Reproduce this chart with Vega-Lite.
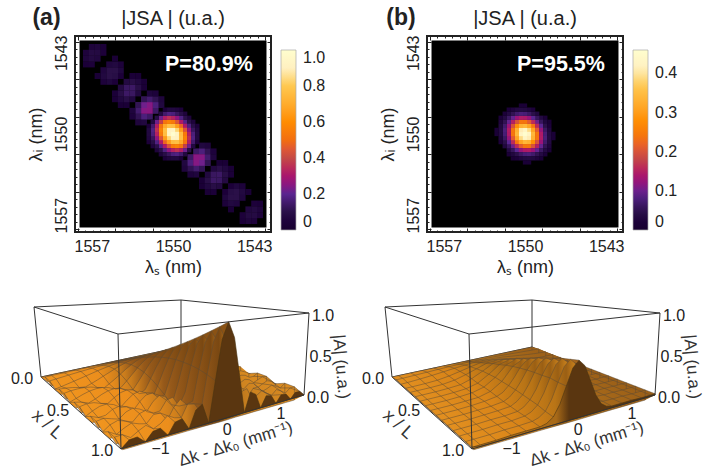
{"$schema":"https://vega.github.io/schema/vega-lite/v6.json","padding":{"left":10,"top":6,"right":0,"bottom":0},"background":"white","config":{"font":"Liberation Sans","axis":{"labelFontSize":16,"titleFontSize":18,"labelColor":"#222","titleColor":"#222","titleFontWeight":"normal","domain":false,"grid":false,"tickColor":"#222","tickWidth":1,"labelOverlap":false,"labelBound":false,"labelFlush":false}},"bounds":"flush","columns":2,"spacing":{"row":50,"column":156},"resolve":{"scale":{"color":"independent"}},"concat":[{"width":196,"height":196,"view":{"stroke":"#222","strokeWidth":2},"layer":[{"data":{"values":[{"x":1558.06,"x2":1541.94,"y":1541.94,"y2":1558.06}]},"mark":{"type":"rect","color":"#000"},"encoding":{"x":{"field":"x","type":"quantitative","scale":{"domain":[1558.45,1541.55],"nice":false,"zero":false},"axis":{"orient":"bottom","title":"λₛ (nm)","values":[1558.2,1557.55,1557,1556.91,1556.26,1555.62,1554.97,1554.33,1553.68,1553.03,1552.39,1551.74,1551.1,1550.45,1550,1549.8,1549.16,1548.51,1547.87,1547.22,1546.58,1545.93,1545.28,1544.64,1543.99,1543.35,1543,1542.7,1542.06],"labelExpr":"indexof([1557,1550,1543],datum.value)>=0?datum.value+'':''","tickSize":{"expr":"indexof([1557,1550,1543],datum.value)>=0?0:(indexof([1558.2,1554.97,1551.74,1548.51,1545.28,1542.06],datum.value)>=0?-4:-2)"},"labelPadding":6,"titlePadding":4}},"x2":{"field":"x2"},"y":{"field":"y","type":"quantitative","scale":{"domain":[1558.45,1541.55],"nice":false,"zero":false},"axis":{"orient":"left","title":"λᵢ (nm)","values":[1558.2,1557.55,1557,1556.91,1556.26,1555.62,1554.97,1554.33,1553.68,1553.03,1552.39,1551.74,1551.1,1550.45,1550,1549.8,1549.16,1548.51,1547.87,1547.22,1546.58,1545.93,1545.28,1544.64,1543.99,1543.35,1543,1542.7,1542.06],"labelExpr":"indexof([1557,1550,1543],datum.value)>=0?datum.value+'':''","tickSize":{"expr":"indexof([1557,1550,1543],datum.value)>=0?0:(indexof([1558.2,1554.97,1551.74,1548.51,1545.28,1542.06],datum.value)>=0?-4:-2)"},"labelAngle":-90,"labelPadding":6,"titlePadding":8}},"y2":{"field":"y2"}}},{"data":{"values":[{"a":4,"b":3,"v":0.142},{"a":3,"b":4,"v":0.142},{"a":5,"b":2,"v":0.067},{"a":2,"b":5,"v":0.067},{"a":4,"b":4,"v":0.25},{"a":5,"b":3,"v":0.172},{"a":3,"b":5,"v":0.172},{"a":6,"b":2,"v":0.055},{"a":2,"b":6,"v":0.055},{"a":5,"b":4,"v":0.245},{"a":4,"b":5,"v":0.245},{"a":6,"b":3,"v":0.116},{"a":3,"b":6,"v":0.116},{"a":5,"b":5,"v":0.22},{"a":6,"b":4,"v":0.152},{"a":4,"b":6,"v":0.152},{"a":7,"b":3,"v":0.048},{"a":3,"b":7,"v":0.048},{"a":6,"b":5,"v":0.118},{"a":5,"b":6,"v":0.118},{"a":7,"b":4,"v":0.056},{"a":4,"b":7,"v":0.056},{"a":7,"b":6,"v":0.066},{"a":6,"b":7,"v":0.066},{"a":8,"b":5,"v":0.031},{"a":5,"b":8,"v":0.031},{"a":7,"b":7,"v":0.133},{"a":8,"b":6,"v":0.092},{"a":6,"b":8,"v":0.092},{"a":9,"b":5,"v":0.029},{"a":5,"b":9,"v":0.029},{"a":8,"b":7,"v":0.14},{"a":7,"b":8,"v":0.14},{"a":9,"b":6,"v":0.066},{"a":6,"b":9,"v":0.066},{"a":8,"b":8,"v":0.134},{"a":9,"b":7,"v":0.092},{"a":7,"b":9,"v":0.092},{"a":10,"b":6,"v":0.029},{"a":6,"b":10,"v":0.029},{"a":9,"b":8,"v":0.077},{"a":8,"b":9,"v":0.077},{"a":10,"b":7,"v":0.037},{"a":7,"b":10,"v":0.037},{"a":10,"b":9,"v":0.04},{"a":9,"b":10,"v":0.04},{"a":10,"b":10,"v":0.09},{"a":11,"b":9,"v":0.062},{"a":9,"b":11,"v":0.062},{"a":11,"b":10,"v":0.1},{"a":10,"b":11,"v":0.1},{"a":12,"b":9,"v":0.047},{"a":9,"b":12,"v":0.047},{"a":11,"b":11,"v":0.1},{"a":12,"b":10,"v":0.069},{"a":10,"b":12,"v":0.069},{"a":12,"b":11,"v":0.061},{"a":11,"b":12,"v":0.061},{"a":13,"b":10,"v":0.029},{"a":10,"b":13,"v":0.029},{"a":13,"b":13,"v":0.065},{"a":14,"b":12,"v":0.045},{"a":12,"b":14,"v":0.045},{"a":14,"b":13,"v":0.076},{"a":13,"b":14,"v":0.076},{"a":15,"b":12,"v":0.036},{"a":12,"b":15,"v":0.036},{"a":14,"b":14,"v":0.08},{"a":15,"b":13,"v":0.055},{"a":13,"b":15,"v":0.055},{"a":15,"b":14,"v":0.05},{"a":14,"b":15,"v":0.05},{"a":-4,"b":-3,"v":0.142},{"a":-3,"b":-4,"v":0.142},{"a":-5,"b":-2,"v":0.067},{"a":-2,"b":-5,"v":0.067},{"a":-4,"b":-4,"v":0.25},{"a":-5,"b":-3,"v":0.172},{"a":-3,"b":-5,"v":0.172},{"a":-6,"b":-2,"v":0.055},{"a":-2,"b":-6,"v":0.055},{"a":-5,"b":-4,"v":0.245},{"a":-4,"b":-5,"v":0.245},{"a":-6,"b":-3,"v":0.116},{"a":-3,"b":-6,"v":0.116},{"a":-5,"b":-5,"v":0.22},{"a":-6,"b":-4,"v":0.152},{"a":-4,"b":-6,"v":0.152},{"a":-7,"b":-3,"v":0.048},{"a":-3,"b":-7,"v":0.048},{"a":-6,"b":-5,"v":0.118},{"a":-5,"b":-6,"v":0.118},{"a":-7,"b":-4,"v":0.056},{"a":-4,"b":-7,"v":0.056},{"a":-7,"b":-6,"v":0.066},{"a":-6,"b":-7,"v":0.066},{"a":-8,"b":-5,"v":0.031},{"a":-5,"b":-8,"v":0.031},{"a":-7,"b":-7,"v":0.133},{"a":-8,"b":-6,"v":0.092},{"a":-6,"b":-8,"v":0.092},{"a":-9,"b":-5,"v":0.029},{"a":-5,"b":-9,"v":0.029},{"a":-8,"b":-7,"v":0.14},{"a":-7,"b":-8,"v":0.14},{"a":-9,"b":-6,"v":0.066},{"a":-6,"b":-9,"v":0.066},{"a":-8,"b":-8,"v":0.134},{"a":-9,"b":-7,"v":0.092},{"a":-7,"b":-9,"v":0.092},{"a":-10,"b":-6,"v":0.029},{"a":-6,"b":-10,"v":0.029},{"a":-9,"b":-8,"v":0.077},{"a":-8,"b":-9,"v":0.077},{"a":-10,"b":-7,"v":0.037},{"a":-7,"b":-10,"v":0.037},{"a":-10,"b":-9,"v":0.04},{"a":-9,"b":-10,"v":0.04},{"a":-10,"b":-10,"v":0.09},{"a":-11,"b":-9,"v":0.062},{"a":-9,"b":-11,"v":0.062},{"a":-11,"b":-10,"v":0.1},{"a":-10,"b":-11,"v":0.1},{"a":-12,"b":-9,"v":0.047},{"a":-9,"b":-12,"v":0.047},{"a":-11,"b":-11,"v":0.1},{"a":-12,"b":-10,"v":0.069},{"a":-10,"b":-12,"v":0.069},{"a":-12,"b":-11,"v":0.061},{"a":-11,"b":-12,"v":0.061},{"a":-13,"b":-10,"v":0.029},{"a":-10,"b":-13,"v":0.029},{"a":-13,"b":-13,"v":0.065},{"a":-14,"b":-12,"v":0.045},{"a":-12,"b":-14,"v":0.045},{"a":-14,"b":-13,"v":0.076},{"a":-13,"b":-14,"v":0.076},{"a":-15,"b":-12,"v":0.036},{"a":-12,"b":-15,"v":0.036},{"a":-14,"b":-14,"v":0.08},{"a":-15,"b":-13,"v":0.055},{"a":-13,"b":-15,"v":0.055},{"a":-15,"b":-14,"v":0.05},{"a":-14,"b":-15,"v":0.05}]},"transform":[{"calculate":"1550-0.5*datum.a","as":"s"},{"calculate":"1550+0.5*datum.b","as":"i"}],"mark":{"type":"rect","width":6,"height":6},"encoding":{"x":{"field":"s","type":"quantitative","scale":{"domain":[1558.45,1541.55],"nice":false,"zero":false},"axis":{"orient":"top","title":null,"labels":false,"values":[1558.2,1557.55,1556.91,1556.26,1555.62,1554.97,1554.33,1553.68,1553.03,1552.39,1551.74,1551.1,1550.45,1549.8,1549.16,1548.51,1547.87,1547.22,1546.58,1545.93,1545.28,1544.64,1543.99,1543.35,1542.7,1542.06],"tickSize":{"expr":"indexof([1558.2,1554.97,1551.74,1548.51,1545.28,1542.06],datum.value)>=0?-4:-2"}}},"y":{"field":"i","type":"quantitative","scale":{"domain":[1558.45,1541.55],"nice":false,"zero":false},"axis":{"orient":"right","title":null,"labels":false,"values":[1558.2,1557.55,1556.91,1556.26,1555.62,1554.97,1554.33,1553.68,1553.03,1552.39,1551.74,1551.1,1550.45,1549.8,1549.16,1548.51,1547.87,1547.22,1546.58,1545.93,1545.28,1544.64,1543.99,1543.35,1542.7,1542.06],"tickSize":{"expr":"indexof([1558.2,1554.97,1551.74,1548.51,1545.28,1542.06],datum.value)>=0?-4:-2"}}},"color":{"field":"v","type":"quantitative","scale":{"domain":[0,0.1,0.2,0.4,0.5,0.6,0.8,0.9,1],"range":["#000000","#2a1048","#5a2590","#c44a45","#f26e10","#ff8c00","#ffc850","#fff0c0","#ffffff"]},"legend":{"orient":"none","legendX":206,"legendY":14,"direction":"vertical","gradientLength":180,"gradientThickness":15,"title":null,"values":[0,0.2,0.4,0.6,0.8,1],"labelFontSize":16,"labelColor":"#222","labelOffset":7,"labelBaseline":"middle","gradientStrokeColor":"#aaa","gradientStrokeWidth":0.7,"labelExpr":"datum.value==0?'0':format(datum.value,'.1f')"}}}},{"data":{"values":[{"a":0,"b":0,"v":1},{"a":1,"b":-1,"v":0.83},{"a":-1,"b":1,"v":0.83},{"a":2,"b":-2,"v":0.48},{"a":-2,"b":2,"v":0.48},{"a":3,"b":-3,"v":0.19},{"a":-3,"b":3,"v":0.19},{"a":4,"b":-4,"v":0.05},{"a":-4,"b":4,"v":0.05},{"a":1,"b":0,"v":0.93},{"a":0,"b":1,"v":0.93},{"a":2,"b":-1,"v":0.65},{"a":-1,"b":2,"v":0.65},{"a":3,"b":-2,"v":0.31},{"a":-2,"b":3,"v":0.31},{"a":4,"b":-3,"v":0.1},{"a":-3,"b":4,"v":0.1},{"a":1,"b":1,"v":0.915},{"a":2,"b":0,"v":0.76},{"a":0,"b":2,"v":0.76},{"a":3,"b":-1,"v":0.44},{"a":-1,"b":3,"v":0.44},{"a":4,"b":-2,"v":0.18},{"a":-2,"b":4,"v":0.18},{"a":5,"b":-3,"v":0.05},{"a":-3,"b":5,"v":0.05},{"a":2,"b":1,"v":0.77},{"a":1,"b":2,"v":0.77},{"a":3,"b":0,"v":0.54},{"a":0,"b":3,"v":0.54},{"a":4,"b":-1,"v":0.26},{"a":-1,"b":4,"v":0.26},{"a":5,"b":-2,"v":0.09},{"a":-2,"b":5,"v":0.09},{"a":2,"b":2,"v":0.69},{"a":3,"b":1,"v":0.57},{"a":1,"b":3,"v":0.57},{"a":4,"b":0,"v":0.33},{"a":0,"b":4,"v":0.33},{"a":5,"b":-1,"v":0.13},{"a":-1,"b":5,"v":0.13},{"a":6,"b":-2,"v":0.04},{"a":-2,"b":6,"v":0.04},{"a":3,"b":2,"v":0.52},{"a":2,"b":3,"v":0.52},{"a":4,"b":1,"v":0.36},{"a":1,"b":4,"v":0.36},{"a":5,"b":0,"v":0.17},{"a":0,"b":5,"v":0.17},{"a":6,"b":-1,"v":0.06},{"a":-1,"b":6,"v":0.06},{"a":3,"b":3,"v":0.38},{"a":4,"b":2,"v":0.32},{"a":2,"b":4,"v":0.32},{"a":5,"b":1,"v":0.18},{"a":1,"b":5,"v":0.18},{"a":6,"b":0,"v":0.07},{"a":0,"b":6,"v":0.07},{"a":4,"b":3,"v":0.22},{"a":3,"b":4,"v":0.22},{"a":5,"b":2,"v":0.15},{"a":2,"b":5,"v":0.15},{"a":6,"b":1,"v":0.07},{"a":1,"b":6,"v":0.07},{"a":4,"b":4,"v":0.09},{"a":5,"b":3,"v":0.07},{"a":3,"b":5,"v":0.07},{"a":6,"b":2,"v":0.04},{"a":2,"b":6,"v":0.04},{"a":-1,"b":0,"v":0.93},{"a":0,"b":-1,"v":0.93},{"a":-2,"b":1,"v":0.65},{"a":1,"b":-2,"v":0.65},{"a":-3,"b":2,"v":0.31},{"a":2,"b":-3,"v":0.31},{"a":-4,"b":3,"v":0.1},{"a":3,"b":-4,"v":0.1},{"a":-1,"b":-1,"v":0.915},{"a":-2,"b":0,"v":0.76},{"a":0,"b":-2,"v":0.76},{"a":-3,"b":1,"v":0.44},{"a":1,"b":-3,"v":0.44},{"a":-4,"b":2,"v":0.18},{"a":2,"b":-4,"v":0.18},{"a":-5,"b":3,"v":0.05},{"a":3,"b":-5,"v":0.05},{"a":-2,"b":-1,"v":0.77},{"a":-1,"b":-2,"v":0.77},{"a":-3,"b":0,"v":0.54},{"a":0,"b":-3,"v":0.54},{"a":-4,"b":1,"v":0.26},{"a":1,"b":-4,"v":0.26},{"a":-5,"b":2,"v":0.09},{"a":2,"b":-5,"v":0.09},{"a":-2,"b":-2,"v":0.69},{"a":-3,"b":-1,"v":0.57},{"a":-1,"b":-3,"v":0.57},{"a":-4,"b":0,"v":0.33},{"a":0,"b":-4,"v":0.33},{"a":-5,"b":1,"v":0.13},{"a":1,"b":-5,"v":0.13},{"a":-6,"b":2,"v":0.04},{"a":2,"b":-6,"v":0.04},{"a":-3,"b":-2,"v":0.52},{"a":-2,"b":-3,"v":0.52},{"a":-4,"b":-1,"v":0.36},{"a":-1,"b":-4,"v":0.36},{"a":-5,"b":0,"v":0.17},{"a":0,"b":-5,"v":0.17},{"a":-6,"b":1,"v":0.06},{"a":1,"b":-6,"v":0.06},{"a":-3,"b":-3,"v":0.38},{"a":-4,"b":-2,"v":0.32},{"a":-2,"b":-4,"v":0.32},{"a":-5,"b":-1,"v":0.18},{"a":-1,"b":-5,"v":0.18},{"a":-6,"b":0,"v":0.07},{"a":0,"b":-6,"v":0.07},{"a":-4,"b":-3,"v":0.22},{"a":-3,"b":-4,"v":0.22},{"a":-5,"b":-2,"v":0.15},{"a":-2,"b":-5,"v":0.15},{"a":-6,"b":-1,"v":0.07},{"a":-1,"b":-6,"v":0.07},{"a":-4,"b":-4,"v":0.09},{"a":-5,"b":-3,"v":0.07},{"a":-3,"b":-5,"v":0.07},{"a":-6,"b":-2,"v":0.04},{"a":-2,"b":-6,"v":0.04}]},"transform":[{"calculate":"1550-0.35*datum.a","as":"s"},{"calculate":"1550+0.35*datum.b","as":"i"}],"mark":{"type":"rect","width":4.3,"height":4.3},"encoding":{"x":{"field":"s","type":"quantitative","axis":null},"y":{"field":"i","type":"quantitative","axis":null},"color":{"field":"v","type":"quantitative"}}},{"data":{"values":[{"s":1546.9,"i":1544.05,"t":"P=80.9%"}]},"mark":{"type":"text","fontSize":21.5,"fontWeight":"bold","color":"white"},"encoding":{"x":{"field":"s","type":"quantitative","axis":null},"y":{"field":"i","type":"quantitative","axis":null},"text":{"field":"t"}}},{"data":{"values":[{"s":1558.45,"i":1541.55,"t":"(a)"}]},"mark":{"type":"text","fontSize":23,"fontWeight":"bold","color":"#222","dx":-28.5,"dy":-18},"encoding":{"x":{"field":"s","type":"quantitative","axis":null},"y":{"field":"i","type":"quantitative","axis":null},"text":{"field":"t"}}},{"data":{"values":[{"s":1550,"i":1541.55,"t":"|JSA |  (u.a.)"}]},"mark":{"type":"text","fontSize":20,"color":"#222","dy":-17},"encoding":{"x":{"field":"s","type":"quantitative","axis":null},"y":{"field":"i","type":"quantitative","axis":null},"text":{"field":"t"}}}],"resolve":{"axis":{"x":"independent","y":"independent"}}},{"width":196,"height":196,"view":{"stroke":"#222","strokeWidth":2},"layer":[{"data":{"values":[{"x":1558.06,"x2":1541.94,"y":1541.94,"y2":1558.06}]},"mark":{"type":"rect","color":"#000"},"encoding":{"x":{"field":"x","type":"quantitative","scale":{"domain":[1558.45,1541.55],"nice":false,"zero":false},"axis":{"orient":"bottom","title":"λₛ (nm)","values":[1558.2,1557.55,1557,1556.91,1556.26,1555.62,1554.97,1554.33,1553.68,1553.03,1552.39,1551.74,1551.1,1550.45,1550,1549.8,1549.16,1548.51,1547.87,1547.22,1546.58,1545.93,1545.28,1544.64,1543.99,1543.35,1543,1542.7,1542.06],"labelExpr":"indexof([1557,1550,1543],datum.value)>=0?datum.value+'':''","tickSize":{"expr":"indexof([1557,1550,1543],datum.value)>=0?0:(indexof([1558.2,1554.97,1551.74,1548.51,1545.28,1542.06],datum.value)>=0?-4:-2)"},"labelPadding":6,"titlePadding":4}},"x2":{"field":"x2"},"y":{"field":"y","type":"quantitative","scale":{"domain":[1558.45,1541.55],"nice":false,"zero":false},"axis":{"orient":"left","title":"λᵢ (nm)","values":[1558.2,1557.55,1557,1556.91,1556.26,1555.62,1554.97,1554.33,1553.68,1553.03,1552.39,1551.74,1551.1,1550.45,1550,1549.8,1549.16,1548.51,1547.87,1547.22,1546.58,1545.93,1545.28,1544.64,1543.99,1543.35,1543,1542.7,1542.06],"labelExpr":"indexof([1557,1550,1543],datum.value)>=0?datum.value+'':''","tickSize":{"expr":"indexof([1557,1550,1543],datum.value)>=0?0:(indexof([1558.2,1554.97,1551.74,1548.51,1545.28,1542.06],datum.value)>=0?-4:-2)"},"labelAngle":-90,"labelPadding":6,"titlePadding":8}},"y2":{"field":"y2"}}},{"data":{"values":[{"a":0,"b":0,"v":0.46},{"a":1,"b":-1,"v":0.39},{"a":-1,"b":1,"v":0.39},{"a":2,"b":-2,"v":0.24},{"a":-2,"b":2,"v":0.24},{"a":3,"b":-3,"v":0.1},{"a":-3,"b":3,"v":0.1},{"a":4,"b":-4,"v":0.033},{"a":-4,"b":4,"v":0.033},{"a":1,"b":0,"v":0.43},{"a":0,"b":1,"v":0.43},{"a":2,"b":-1,"v":0.31},{"a":-1,"b":2,"v":0.31},{"a":3,"b":-2,"v":0.16},{"a":-2,"b":3,"v":0.16},{"a":4,"b":-3,"v":0.059},{"a":-3,"b":4,"v":0.059},{"a":5,"b":-4,"v":0.016},{"a":-4,"b":5,"v":0.016},{"a":1,"b":1,"v":0.41},{"a":2,"b":0,"v":0.34},{"a":0,"b":2,"v":0.34},{"a":3,"b":-1,"v":0.21},{"a":-1,"b":3,"v":0.21},{"a":4,"b":-2,"v":0.092},{"a":-2,"b":4,"v":0.092},{"a":5,"b":-3,"v":0.029},{"a":-3,"b":5,"v":0.029},{"a":2,"b":1,"v":0.33},{"a":1,"b":2,"v":0.33},{"a":3,"b":0,"v":0.24},{"a":0,"b":3,"v":0.24},{"a":4,"b":-1,"v":0.124},{"a":-1,"b":4,"v":0.124},{"a":5,"b":-2,"v":0.046},{"a":-2,"b":5,"v":0.046},{"a":6,"b":-3,"v":0.012},{"a":-3,"b":6,"v":0.012},{"a":2,"b":2,"v":0.28},{"a":3,"b":1,"v":0.24},{"a":1,"b":3,"v":0.24},{"a":4,"b":0,"v":0.144},{"a":0,"b":4,"v":0.144},{"a":5,"b":-1,"v":0.063},{"a":-1,"b":5,"v":0.063},{"a":6,"b":-2,"v":0.02},{"a":-2,"b":6,"v":0.02},{"a":3,"b":2,"v":0.2},{"a":2,"b":3,"v":0.2},{"a":4,"b":1,"v":0.146},{"a":1,"b":4,"v":0.146},{"a":5,"b":0,"v":0.075},{"a":0,"b":5,"v":0.075},{"a":6,"b":-1,"v":0.028},{"a":-1,"b":6,"v":0.028},{"a":3,"b":3,"v":0.15},{"a":4,"b":2,"v":0.127},{"a":2,"b":4,"v":0.127},{"a":5,"b":1,"v":0.078},{"a":1,"b":5,"v":0.078},{"a":6,"b":0,"v":0.034},{"a":0,"b":6,"v":0.034},{"a":4,"b":3,"v":0.096},{"a":3,"b":4,"v":0.096},{"a":5,"b":2,"v":0.069},{"a":2,"b":5,"v":0.069},{"a":6,"b":1,"v":0.036},{"a":1,"b":6,"v":0.036},{"a":7,"b":0,"v":0.013},{"a":0,"b":7,"v":0.013},{"a":4,"b":4,"v":0.063},{"a":5,"b":3,"v":0.053},{"a":3,"b":5,"v":0.053},{"a":6,"b":2,"v":0.032},{"a":2,"b":6,"v":0.032},{"a":7,"b":1,"v":0.014},{"a":1,"b":7,"v":0.014},{"a":5,"b":4,"v":0.035},{"a":4,"b":5,"v":0.035},{"a":6,"b":3,"v":0.025},{"a":3,"b":6,"v":0.025},{"a":5,"b":5,"v":0.02},{"a":6,"b":4,"v":0.017},{"a":4,"b":6,"v":0.017},{"a":-1,"b":0,"v":0.43},{"a":0,"b":-1,"v":0.43},{"a":-2,"b":1,"v":0.31},{"a":1,"b":-2,"v":0.31},{"a":-3,"b":2,"v":0.16},{"a":2,"b":-3,"v":0.16},{"a":-4,"b":3,"v":0.059},{"a":3,"b":-4,"v":0.059},{"a":-1,"b":-1,"v":0.41},{"a":-2,"b":0,"v":0.34},{"a":0,"b":-2,"v":0.34},{"a":-3,"b":1,"v":0.21},{"a":1,"b":-3,"v":0.21},{"a":-4,"b":2,"v":0.092},{"a":2,"b":-4,"v":0.092},{"a":-5,"b":3,"v":0.029},{"a":3,"b":-5,"v":0.029},{"a":-2,"b":-1,"v":0.33},{"a":-1,"b":-2,"v":0.33},{"a":-3,"b":0,"v":0.24},{"a":0,"b":-3,"v":0.24},{"a":-4,"b":1,"v":0.124},{"a":1,"b":-4,"v":0.124},{"a":-5,"b":2,"v":0.046},{"a":2,"b":-5,"v":0.046},{"a":-2,"b":-2,"v":0.28},{"a":-3,"b":-1,"v":0.24},{"a":-1,"b":-3,"v":0.24},{"a":-4,"b":0,"v":0.144},{"a":0,"b":-4,"v":0.144},{"a":-5,"b":1,"v":0.063},{"a":1,"b":-5,"v":0.063},{"a":-6,"b":2,"v":0.02},{"a":2,"b":-6,"v":0.02},{"a":-3,"b":-2,"v":0.2},{"a":-2,"b":-3,"v":0.2},{"a":-4,"b":-1,"v":0.146},{"a":-1,"b":-4,"v":0.146},{"a":-5,"b":0,"v":0.075},{"a":0,"b":-5,"v":0.075},{"a":-6,"b":1,"v":0.028},{"a":1,"b":-6,"v":0.028},{"a":-3,"b":-3,"v":0.15},{"a":-4,"b":-2,"v":0.127},{"a":-2,"b":-4,"v":0.127},{"a":-5,"b":-1,"v":0.078},{"a":-1,"b":-5,"v":0.078},{"a":-6,"b":0,"v":0.034},{"a":0,"b":-6,"v":0.034},{"a":-4,"b":-3,"v":0.096},{"a":-3,"b":-4,"v":0.096},{"a":-5,"b":-2,"v":0.069},{"a":-2,"b":-5,"v":0.069},{"a":-6,"b":-1,"v":0.036},{"a":-1,"b":-6,"v":0.036},{"a":-7,"b":0,"v":0.013},{"a":0,"b":-7,"v":0.013},{"a":-4,"b":-4,"v":0.063},{"a":-5,"b":-3,"v":0.053},{"a":-3,"b":-5,"v":0.053},{"a":-6,"b":-2,"v":0.032},{"a":-2,"b":-6,"v":0.032},{"a":-7,"b":-1,"v":0.014},{"a":-1,"b":-7,"v":0.014},{"a":-5,"b":-4,"v":0.035},{"a":-4,"b":-5,"v":0.035},{"a":-6,"b":-3,"v":0.025},{"a":-3,"b":-6,"v":0.025},{"a":-5,"b":-5,"v":0.02},{"a":-6,"b":-4,"v":0.017},{"a":-4,"b":-6,"v":0.017}]},"transform":[{"calculate":"1550-0.35*datum.a","as":"s"},{"calculate":"1550+0.35*datum.b","as":"i"}],"mark":{"type":"rect","width":4.3,"height":4.3},"encoding":{"x":{"field":"s","type":"quantitative","scale":{"domain":[1558.45,1541.55],"nice":false,"zero":false},"axis":{"orient":"top","title":null,"labels":false,"values":[1558.2,1557.55,1556.91,1556.26,1555.62,1554.97,1554.33,1553.68,1553.03,1552.39,1551.74,1551.1,1550.45,1549.8,1549.16,1548.51,1547.87,1547.22,1546.58,1545.93,1545.28,1544.64,1543.99,1543.35,1542.7,1542.06],"tickSize":{"expr":"indexof([1558.2,1554.97,1551.74,1548.51,1545.28,1542.06],datum.value)>=0?-4:-2"}}},"y":{"field":"i","type":"quantitative","scale":{"domain":[1558.45,1541.55],"nice":false,"zero":false},"axis":{"orient":"right","title":null,"labels":false,"values":[1558.2,1557.55,1556.91,1556.26,1555.62,1554.97,1554.33,1553.68,1553.03,1552.39,1551.74,1551.1,1550.45,1549.8,1549.16,1548.51,1547.87,1547.22,1546.58,1545.93,1545.28,1544.64,1543.99,1543.35,1542.7,1542.06],"tickSize":{"expr":"indexof([1558.2,1554.97,1551.74,1548.51,1545.28,1542.06],datum.value)>=0?-4:-2"}}},"color":{"field":"v","type":"quantitative","scale":{"domain":[0,0.046,0.092,0.184,0.23,0.276,0.368,0.414,0.46],"range":["#000000","#2a1048","#5a2590","#c44a45","#f26e10","#ff8c00","#ffc850","#fff0c0","#ffffff"]},"legend":{"orient":"none","legendX":206,"legendY":14,"direction":"vertical","gradientLength":180,"gradientThickness":15,"title":null,"values":[0,0.1,0.2,0.3,0.4],"labelFontSize":16,"labelColor":"#222","labelOffset":7,"labelBaseline":"middle","gradientStrokeColor":"#aaa","gradientStrokeWidth":0.7,"labelExpr":"datum.value==0?'0':format(datum.value,'.1f')"}}}},{"data":{"values":[{"s":1546.9,"i":1544.05,"t":"P=95.5%"}]},"mark":{"type":"text","fontSize":21.5,"fontWeight":"bold","color":"white"},"encoding":{"x":{"field":"s","type":"quantitative","axis":null},"y":{"field":"i","type":"quantitative","axis":null},"text":{"field":"t"}}},{"data":{"values":[{"s":1558.45,"i":1541.55,"t":"(b)"}]},"mark":{"type":"text","fontSize":23,"fontWeight":"bold","color":"#222","dx":-26,"dy":-18},"encoding":{"x":{"field":"s","type":"quantitative","axis":null},"y":{"field":"i","type":"quantitative","axis":null},"text":{"field":"t"}}},{"data":{"values":[{"s":1550,"i":1541.55,"t":"|JSA |  (u.a.)"}]},"mark":{"type":"text","fontSize":20,"color":"#222","dy":-17},"encoding":{"x":{"field":"s","type":"quantitative","axis":null},"y":{"field":"i","type":"quantitative","axis":null},"text":{"field":"t"}}}],"resolve":{"axis":{"x":"independent","y":"independent"}}},{"width":196,"height":190,"view":{"stroke":null},"data":{"values":[{"n":0,"k":-1.5,"a":0},{"n":0,"k":-1.4,"a":0},{"n":0,"k":-1.2,"a":0},{"n":0,"k":-1,"a":0},{"n":0,"k":-0.8,"a":0},{"n":0,"k":-0.6,"a":0},{"n":0,"k":-0.4,"a":0},{"n":0,"k":-0.2,"a":0},{"n":0,"k":0,"a":0},{"n":0,"k":0.2,"a":0},{"n":0,"k":0.4,"a":0},{"n":0,"k":0.6,"a":0},{"n":0,"k":0.8,"a":0},{"n":0,"k":1,"a":0},{"n":0,"k":1.2,"a":0},{"n":0,"k":1.4,"a":0},{"n":0,"k":1.5,"a":0},{"n":1,"k":-1.5,"a":0.055},{"n":1,"k":-1.4,"a":0.056},{"n":1,"k":-1.2,"a":0.059},{"n":1,"k":-1,"a":0.062},{"n":1,"k":-0.8,"a":0.064},{"n":1,"k":-0.6,"a":0.065},{"n":1,"k":-0.4,"a":0.066},{"n":1,"k":-0.2,"a":0.067},{"n":1,"k":0,"a":0.067},{"n":1,"k":0.2,"a":0.067},{"n":1,"k":0.4,"a":0.066},{"n":1,"k":0.6,"a":0.065},{"n":1,"k":0.8,"a":0.064},{"n":1,"k":1,"a":0.062},{"n":1,"k":1.2,"a":0.059},{"n":1,"k":1.4,"a":0.056},{"n":1,"k":1.5,"a":0.055},{"n":2,"k":-1.5,"a":0.055},{"n":2,"k":-1.4,"a":0.063},{"n":2,"k":-1.2,"a":0.079},{"n":2,"k":-1,"a":0.094},{"n":2,"k":-0.8,"a":0.107},{"n":2,"k":-0.6,"a":0.117},{"n":2,"k":-0.4,"a":0.126},{"n":2,"k":-0.2,"a":0.132},{"n":2,"k":0,"a":0.133},{"n":2,"k":0.2,"a":0.132},{"n":2,"k":0.4,"a":0.126},{"n":2,"k":0.6,"a":0.117},{"n":2,"k":0.8,"a":0.107},{"n":2,"k":1,"a":0.094},{"n":2,"k":1.2,"a":0.079},{"n":2,"k":1.4,"a":0.063},{"n":2,"k":1.5,"a":0.055},{"n":3,"k":-1.5,"a":0},{"n":3,"k":-1.4,"a":0.014},{"n":3,"k":-1.2,"a":0.047},{"n":3,"k":-1,"a":0.083},{"n":3,"k":-0.8,"a":0.119},{"n":3,"k":-0.6,"a":0.151},{"n":3,"k":-0.4,"a":0.177},{"n":3,"k":-0.2,"a":0.194},{"n":3,"k":0,"a":0.2},{"n":3,"k":0.2,"a":0.194},{"n":3,"k":0.4,"a":0.177},{"n":3,"k":0.6,"a":0.151},{"n":3,"k":0.8,"a":0.119},{"n":3,"k":1,"a":0.083},{"n":3,"k":1.2,"a":0.047},{"n":3,"k":1.4,"a":0.014},{"n":3,"k":1.5,"a":0},{"n":4,"k":-1.5,"a":0.055},{"n":4,"k":-1.4,"a":0.048},{"n":4,"k":-1.3,"a":0.036},{"n":4,"k":-1.2,"a":0.017},{"n":4,"k":-1.1,"a":0.006},{"n":4,"k":-1,"a":0.033},{"n":4,"k":-0.9,"a":0.062},{"n":4,"k":-0.8,"a":0.094},{"n":4,"k":-0.7,"a":0.126},{"n":4,"k":-0.6,"a":0.158},{"n":4,"k":-0.5,"a":0.188},{"n":4,"k":-0.4,"a":0.214},{"n":4,"k":-0.3,"a":0.236},{"n":4,"k":-0.2,"a":0.253},{"n":4,"k":-0.1,"a":0.263},{"n":4,"k":0,"a":0.267},{"n":4,"k":0.1,"a":0.263},{"n":4,"k":0.2,"a":0.253},{"n":4,"k":0.3,"a":0.236},{"n":4,"k":0.4,"a":0.214},{"n":4,"k":0.5,"a":0.188},{"n":4,"k":0.6,"a":0.158},{"n":4,"k":0.7,"a":0.126},{"n":4,"k":0.8,"a":0.094},{"n":4,"k":0.9,"a":0.062},{"n":4,"k":1,"a":0.033},{"n":4,"k":1.1,"a":0.006},{"n":4,"k":1.2,"a":0.017},{"n":4,"k":1.3,"a":0.036},{"n":4,"k":1.4,"a":0.048},{"n":4,"k":1.5,"a":0.055},{"n":5,"k":-1.5,"a":0.055},{"n":5,"k":-1.4,"a":0.067},{"n":5,"k":-1.3,"a":0.071},{"n":5,"k":-1.2,"a":0.069},{"n":5,"k":-1.1,"a":0.056},{"n":5,"k":-1,"a":0.032},{"n":5,"k":-0.9,"a":0},{"n":5,"k":-0.8,"a":0.041},{"n":5,"k":-0.7,"a":0.088},{"n":5,"k":-0.6,"a":0.138},{"n":5,"k":-0.5,"a":0.19},{"n":5,"k":-0.4,"a":0.235},{"n":5,"k":-0.3,"a":0.276},{"n":5,"k":-0.2,"a":0.306},{"n":5,"k":-0.1,"a":0.327},{"n":5,"k":0,"a":0.333},{"n":5,"k":0.1,"a":0.327},{"n":5,"k":0.2,"a":0.306},{"n":5,"k":0.3,"a":0.276},{"n":5,"k":0.4,"a":0.235},{"n":5,"k":0.5,"a":0.19},{"n":5,"k":0.6,"a":0.138},{"n":5,"k":0.7,"a":0.088},{"n":5,"k":0.8,"a":0.041},{"n":5,"k":0.9,"a":0},{"n":5,"k":1,"a":0.032},{"n":5,"k":1.1,"a":0.056},{"n":5,"k":1.2,"a":0.069},{"n":5,"k":1.3,"a":0.071},{"n":5,"k":1.4,"a":0.067},{"n":5,"k":1.5,"a":0.055},{"n":6,"k":-1.5,"a":0},{"n":6,"k":-1.4,"a":0.027},{"n":6,"k":-1.3,"a":0.055},{"n":6,"k":-1.2,"a":0.076},{"n":6,"k":-1.1,"a":0.086},{"n":6,"k":-1,"a":0.083},{"n":6,"k":-0.9,"a":0.062},{"n":6,"k":-0.8,"a":0.026},{"n":6,"k":-0.7,"a":0.028},{"n":6,"k":-0.6,"a":0.094},{"n":6,"k":-0.5,"a":0.165},{"n":6,"k":-0.4,"a":0.237},{"n":6,"k":-0.3,"a":0.303},{"n":6,"k":-0.2,"a":0.354},{"n":6,"k":-0.1,"a":0.388},{"n":6,"k":0,"a":0.4},{"n":6,"k":0.1,"a":0.388},{"n":6,"k":0.2,"a":0.354},{"n":6,"k":0.3,"a":0.303},{"n":6,"k":0.4,"a":0.237},{"n":6,"k":0.5,"a":0.165},{"n":6,"k":0.6,"a":0.094},{"n":6,"k":0.7,"a":0.028},{"n":6,"k":0.8,"a":0.026},{"n":6,"k":0.9,"a":0.062},{"n":6,"k":1,"a":0.083},{"n":6,"k":1.1,"a":0.086},{"n":6,"k":1.2,"a":0.076},{"n":6,"k":1.3,"a":0.055},{"n":6,"k":1.4,"a":0.027},{"n":6,"k":1.5,"a":0},{"n":7,"k":-1.5,"a":0.055},{"n":7,"k":-1.4,"a":0.036},{"n":7,"k":-1.3,"a":0.005},{"n":7,"k":-1.2,"a":0.032},{"n":7,"k":-1.1,"a":0.068},{"n":7,"k":-1,"a":0.093},{"n":7,"k":-0.9,"a":0.101},{"n":7,"k":-0.8,"a":0.084},{"n":7,"k":-0.7,"a":0.037},{"n":7,"k":-0.6,"a":0.033},{"n":7,"k":-0.5,"a":0.123},{"n":7,"k":-0.4,"a":0.221},{"n":7,"k":-0.3,"a":0.319},{"n":7,"k":-0.2,"a":0.397},{"n":7,"k":-0.1,"a":0.448},{"n":7,"k":0,"a":0.467},{"n":7,"k":0.1,"a":0.448},{"n":7,"k":0.2,"a":0.397},{"n":7,"k":0.3,"a":0.319},{"n":7,"k":0.4,"a":0.221},{"n":7,"k":0.5,"a":0.123},{"n":7,"k":0.6,"a":0.033},{"n":7,"k":0.7,"a":0.037},{"n":7,"k":0.8,"a":0.084},{"n":7,"k":0.9,"a":0.101},{"n":7,"k":1,"a":0.093},{"n":7,"k":1.1,"a":0.068},{"n":7,"k":1.2,"a":0.032},{"n":7,"k":1.3,"a":0.005},{"n":7,"k":1.4,"a":0.036},{"n":7,"k":1.5,"a":0.055},{"n":8,"k":-1.5,"a":0.055},{"n":8,"k":-1.4,"a":0.068},{"n":8,"k":-1.3,"a":0.061},{"n":8,"k":-1.2,"a":0.033},{"n":8,"k":-1.1,"a":0.012},{"n":8,"k":-1,"a":0.061},{"n":8,"k":-0.9,"a":0.101},{"n":8,"k":-0.8,"a":0.115},{"n":8,"k":-0.7,"a":0.096},{"n":8,"k":-0.6,"a":0.034},{"n":8,"k":-0.5,"a":0.065},{"n":8,"k":-0.4,"a":0.188},{"n":8,"k":-0.3,"a":0.316},{"n":8,"k":-0.2,"a":0.429},{"n":8,"k":-0.1,"a":0.505},{"n":8,"k":0,"a":0.533},{"n":8,"k":0.1,"a":0.505},{"n":8,"k":0.2,"a":0.429},{"n":8,"k":0.3,"a":0.316},{"n":8,"k":0.4,"a":0.188},{"n":8,"k":0.5,"a":0.065},{"n":8,"k":0.6,"a":0.034},{"n":8,"k":0.7,"a":0.096},{"n":8,"k":0.8,"a":0.115},{"n":8,"k":0.9,"a":0.101},{"n":8,"k":1,"a":0.061},{"n":8,"k":1.1,"a":0.012},{"n":8,"k":1.2,"a":0.033},{"n":8,"k":1.3,"a":0.061},{"n":8,"k":1.4,"a":0.068},{"n":8,"k":1.5,"a":0.055},{"n":9,"k":-1.5,"a":0},{"n":9,"k":-1.4,"a":0.04},{"n":9,"k":-1.3,"a":0.07},{"n":9,"k":-1.2,"a":0.076},{"n":9,"k":-1.1,"a":0.051},{"n":9,"k":-1,"a":0},{"n":9,"k":-0.9,"a":0.062},{"n":9,"k":-0.8,"a":0.113},{"n":9,"k":-0.7,"a":0.13},{"n":9,"k":-0.6,"a":0.094},{"n":9,"k":-0.5,"a":0},{"n":9,"k":-0.4,"a":0.14},{"n":9,"k":-0.3,"a":0.303},{"n":9,"k":-0.2,"a":0.454},{"n":9,"k":-0.1,"a":0.561},{"n":9,"k":0,"a":0.6},{"n":9,"k":0.1,"a":0.561},{"n":9,"k":0.2,"a":0.454},{"n":9,"k":0.3,"a":0.303},{"n":9,"k":0.4,"a":0.14},{"n":9,"k":0.5,"a":0},{"n":9,"k":0.6,"a":0.094},{"n":9,"k":0.7,"a":0.13},{"n":9,"k":0.8,"a":0.113},{"n":9,"k":0.9,"a":0.062},{"n":9,"k":1,"a":0},{"n":9,"k":1.1,"a":0.051},{"n":9,"k":1.2,"a":0.076},{"n":9,"k":1.3,"a":0.07},{"n":9,"k":1.4,"a":0.04},{"n":9,"k":1.5,"a":0},{"n":10,"k":-1.5,"a":0.055},{"n":10,"k":-1.4,"a":0.022},{"n":10,"k":-1.3,"a":0.025},{"n":10,"k":-1.2,"a":0.069},{"n":10,"k":-1.1,"a":0.085},{"n":10,"k":-1,"a":0.058},{"n":10,"k":-0.9,"a":0},{"n":10,"k":-0.8,"a":0.077},{"n":10,"k":-0.7,"a":0.133},{"n":10,"k":-0.6,"a":0.138},{"n":10,"k":-0.5,"a":0.063},{"n":10,"k":-0.4,"a":0.081},{"n":10,"k":-0.3,"a":0.275},{"n":10,"k":-0.2,"a":0.471},{"n":10,"k":-0.1,"a":0.614},{"n":10,"k":0,"a":0.667},{"n":10,"k":0.1,"a":0.614},{"n":10,"k":0.2,"a":0.471},{"n":10,"k":0.3,"a":0.275},{"n":10,"k":0.4,"a":0.081},{"n":10,"k":0.5,"a":0.063},{"n":10,"k":0.6,"a":0.138},{"n":10,"k":0.7,"a":0.133},{"n":10,"k":0.8,"a":0.077},{"n":10,"k":0.9,"a":0},{"n":10,"k":1,"a":0.058},{"n":10,"k":1.1,"a":0.085},{"n":10,"k":1.2,"a":0.069},{"n":10,"k":1.3,"a":0.025},{"n":10,"k":1.4,"a":0.022},{"n":10,"k":1.5,"a":0.055},{"n":11,"k":-1.5,"a":0.055},{"n":11,"k":-1.4,"a":0.065},{"n":11,"k":-1.3,"a":0.04},{"n":11,"k":-1.2,"a":0.016},{"n":11,"k":-1.1,"a":0.07},{"n":11,"k":-1,"a":0.092},{"n":11,"k":-0.9,"a":0.062},{"n":11,"k":-0.8,"a":0.016},{"n":11,"k":-0.7,"a":0.107},{"n":11,"k":-0.6,"a":0.157},{"n":11,"k":-0.5,"a":0.122},{"n":11,"k":-0.4,"a":0.016},{"n":11,"k":-0.3,"a":0.23},{"n":11,"k":-0.2,"a":0.475},{"n":11,"k":-0.1,"a":0.66},{"n":11,"k":0,"a":0.733},{"n":11,"k":0.1,"a":0.66},{"n":11,"k":0.2,"a":0.475},{"n":11,"k":0.3,"a":0.23},{"n":11,"k":0.4,"a":0.016},{"n":11,"k":0.5,"a":0.122},{"n":11,"k":0.6,"a":0.157},{"n":11,"k":0.7,"a":0.107},{"n":11,"k":0.8,"a":0.016},{"n":11,"k":0.9,"a":0.062},{"n":11,"k":1,"a":0.092},{"n":11,"k":1.1,"a":0.07},{"n":11,"k":1.2,"a":0.016},{"n":11,"k":1.3,"a":0.04},{"n":11,"k":1.4,"a":0.065},{"n":11,"k":1.5,"a":0.055},{"n":12,"k":-1.5,"a":0},{"n":12,"k":-1.4,"a":0.05},{"n":12,"k":-1.3,"a":0.072},{"n":12,"k":-1.2,"a":0.047},{"n":12,"k":-1.1,"a":0.017},{"n":12,"k":-1,"a":0.083},{"n":12,"k":-0.9,"a":0.101},{"n":12,"k":-0.8,"a":0.049},{"n":12,"k":-0.7,"a":0.054},{"n":12,"k":-0.6,"a":0.151},{"n":12,"k":-0.5,"a":0.165},{"n":12,"k":-0.4,"a":0.051},{"n":12,"k":-0.3,"a":0.187},{"n":12,"k":-0.2,"a":0.474},{"n":12,"k":-0.1,"a":0.709},{"n":12,"k":0,"a":0.8},{"n":12,"k":0.1,"a":0.709},{"n":12,"k":0.2,"a":0.474},{"n":12,"k":0.3,"a":0.187},{"n":12,"k":0.4,"a":0.051},{"n":12,"k":0.5,"a":0.165},{"n":12,"k":0.6,"a":0.151},{"n":12,"k":0.7,"a":0.054},{"n":12,"k":0.8,"a":0.049},{"n":12,"k":0.9,"a":0.101},{"n":12,"k":1,"a":0.083},{"n":12,"k":1.1,"a":0.017},{"n":12,"k":1.2,"a":0.047},{"n":12,"k":1.3,"a":0.072},{"n":12,"k":1.4,"a":0.05},{"n":12,"k":1.5,"a":0},{"n":13,"k":-1.5,"a":0.055},{"n":13,"k":-1.4,"a":0.009},{"n":13,"k":-1.3,"a":0.047},{"n":13,"k":-1.2,"a":0.077},{"n":13,"k":-1.1,"a":0.049},{"n":13,"k":-1,"a":0.03},{"n":13,"k":-0.9,"a":0.101},{"n":13,"k":-0.8,"a":0.099},{"n":13,"k":-0.7,"a":0.006},{"n":13,"k":-0.6,"a":0.12},{"n":13,"k":-0.5,"a":0.187},{"n":13,"k":-0.4,"a":0.116},{"n":13,"k":-0.3,"a":0.134},{"n":13,"k":-0.2,"a":0.463},{"n":13,"k":-0.1,"a":0.746},{"n":13,"k":0,"a":0.867},{"n":13,"k":0.1,"a":0.746},{"n":13,"k":0.2,"a":0.463},{"n":13,"k":0.3,"a":0.134},{"n":13,"k":0.4,"a":0.116},{"n":13,"k":0.5,"a":0.187},{"n":13,"k":0.6,"a":0.12},{"n":13,"k":0.7,"a":0.006},{"n":13,"k":0.8,"a":0.099},{"n":13,"k":0.9,"a":0.101},{"n":13,"k":1,"a":0.03},{"n":13,"k":1.1,"a":0.049},{"n":13,"k":1.2,"a":0.077},{"n":13,"k":1.3,"a":0.047},{"n":13,"k":1.4,"a":0.009},{"n":13,"k":1.5,"a":0.055},{"n":14,"k":-1.5,"a":0.055},{"n":14,"k":-1.4,"a":0.056},{"n":14,"k":-1.3,"a":0.009},{"n":14,"k":-1.2,"a":0.05},{"n":14,"k":-1.1,"a":0.083},{"n":14,"k":-1,"a":0.03},{"n":14,"k":-0.9,"a":0.062},{"n":14,"k":-0.8,"a":0.119},{"n":14,"k":-0.7,"a":0.08},{"n":14,"k":-0.6,"a":0.063},{"n":14,"k":-0.5,"a":0.187},{"n":14,"k":-0.4,"a":0.168},{"n":14,"k":-0.3,"a":0.065},{"n":14,"k":-0.2,"a":0.442},{"n":14,"k":-0.1,"a":0.78},{"n":14,"k":0,"a":0.933},{"n":14,"k":0.1,"a":0.78},{"n":14,"k":0.2,"a":0.442},{"n":14,"k":0.3,"a":0.065},{"n":14,"k":0.4,"a":0.168},{"n":14,"k":0.5,"a":0.187},{"n":14,"k":0.6,"a":0.063},{"n":14,"k":0.7,"a":0.08},{"n":14,"k":0.8,"a":0.119},{"n":14,"k":0.9,"a":0.062},{"n":14,"k":1,"a":0.03},{"n":14,"k":1.1,"a":0.083},{"n":14,"k":1.2,"a":0.05},{"n":14,"k":1.3,"a":0.009},{"n":14,"k":1.4,"a":0.056},{"n":14,"k":1.5,"a":0.055},{"n":15,"k":-1.5,"a":0},{"n":15,"k":-1.4,"a":0.059},{"n":15,"k":-1.3,"a":0.064},{"n":15,"k":-1.2,"a":0},{"n":15,"k":-1.1,"a":0.075},{"n":15,"k":-1,"a":0.083},{"n":15,"k":-0.9,"a":0},{"n":15,"k":-0.8,"a":0.103},{"n":15,"k":-0.7,"a":0.118},{"n":15,"k":-0.6,"a":0},{"n":15,"k":-0.5,"a":0.165},{"n":15,"k":-0.4,"a":0.207},{"n":15,"k":-0.3,"a":0},{"n":15,"k":-0.2,"a":0.413},{"n":15,"k":-0.1,"a":0.827},{"n":15,"k":0,"a":1},{"n":15,"k":0.1,"a":0.827},{"n":15,"k":0.2,"a":0.413},{"n":15,"k":0.3,"a":0},{"n":15,"k":0.4,"a":0.207},{"n":15,"k":0.5,"a":0.165},{"n":15,"k":0.6,"a":0},{"n":15,"k":0.7,"a":0.118},{"n":15,"k":0.8,"a":0.103},{"n":15,"k":0.9,"a":0},{"n":15,"k":1,"a":0.083},{"n":15,"k":1.1,"a":0.075},{"n":15,"k":1.2,"a":0},{"n":15,"k":1.3,"a":0.064},{"n":15,"k":1.4,"a":0.059},{"n":15,"k":1.5,"a":0},{"e":"b1","n":0,"k":-1.5,"a":0},{"e":"b1","n":0,"k":1.5,"a":0},{"e":"b2","n":0,"k":1.5,"a":0},{"e":"b2","n":15,"k":1.5,"a":0},{"e":"b3","n":0,"k":-1.5,"a":0},{"e":"b3","n":0,"k":-1.5,"a":1},{"e":"b4","n":0,"k":1.5,"a":0},{"e":"b4","n":0,"k":1.5,"a":1},{"e":"b5","n":0,"k":-1.5,"a":1},{"e":"b5","n":0,"k":1.5,"a":1},{"e":"b6","n":0,"k":-1.5,"a":0},{"e":"b6","n":15,"k":-1.5,"a":0},{"e":"f1","n":15,"k":-1.5,"a":0},{"e":"f1","n":15,"k":-1.5,"a":1},{"e":"f2","n":15,"k":1.5,"a":0},{"e":"f2","n":15,"k":1.5,"a":1},{"e":"f3","n":15,"k":-1.5,"a":0},{"e":"f3","n":15,"k":1.5,"a":0},{"e":"f4","n":15,"k":-1.5,"a":1},{"e":"f4","n":15,"k":1.5,"a":1},{"e":"f5","n":0,"k":-1.5,"a":1},{"e":"f5","n":15,"k":-1.5,"a":1},{"e":"f6","n":0,"k":1.5,"a":1},{"e":"f6","n":15,"k":1.5,"a":1},{"g":"l","t":"0.0","n":0,"k":-1.5,"a":0},{"g":"l","t":"0.5","n":7.5,"k":-1.5,"a":0},{"g":"l","t":"1.0","n":15,"k":-1.5,"a":0},{"g":"b","t":"−1","n":15,"k":-1,"a":0},{"g":"b","t":"0","n":15,"k":0,"a":0},{"g":"b","t":"1","n":15,"k":1,"a":0},{"g":"r","t":"0.0","n":15,"k":1.5,"a":0},{"g":"r","t":"0.5","n":15,"k":1.5,"a":0.5},{"g":"r","t":"1.0","n":15,"k":1.5,"a":1},{"g":"x","t":"x / L","n":9,"k":-1.5,"a":0},{"g":"k","t":"Δk - Δk₀ (mm⁻¹)","n":15,"k":0.2,"a":0},{"g":"a","t":"|A| (u.a.)","n":15,"k":1.5,"a":0.6}]},"transform":[{"calculate":"(datum.k+1.5)/3","as":"t0"},{"calculate":"1.38*datum.t0/(1+0.38*datum.t0)","as":"u"},{"calculate":"datum.n/15","as":"l"},{"calculate":"0.82*datum.l/(1-0.18*datum.l)","as":"v"},{"calculate":"(1-datum.v)*((1-datum.u)*42+datum.u*182)+datum.v*((1-datum.u)*122+datum.u*305)","as":"fx"},{"calculate":"(1-datum.v)*((1-datum.u)*95+datum.u*65)+datum.v*((1-datum.u)*167+datum.u*113)","as":"fy"},{"calculate":"(1-datum.v)*((1-datum.u)*35+datum.u*182)+datum.v*((1-datum.u)*119+datum.u*310)","as":"tx"},{"calculate":"(1-datum.v)*((1-datum.u)*25+datum.u*18)+datum.v*((1-datum.u)*52+datum.u*31)","as":"ty"},{"calculate":"datum.fx+(datum.tx-datum.fx)*datum.a","as":"X"},{"calculate":"datum.fy+(datum.ty-datum.fy)*datum.a","as":"Y"},{"calculate":"datum.Y+(datum.fy+(datum.n<15?(5.3+2.6*datum.l)*1.15:0)-datum.Y)*min(1,datum.t0*30)","as":"B"},{"calculate":"datum.Y+25","as":"R"}],"encoding":{"x":{"field":"X","type":"quantitative","scale":{"domain":[76,272],"nice":false,"zero":false},"axis":null},"y":{"field":"Y","type":"quantitative","scale":{"domain":[190,0],"nice":false,"zero":false},"axis":null}},"layer":[{"transform":[{"filter":"test(/^b/,datum.e||'')"}],"mark":{"type":"line","color":"#333","strokeWidth":1},"encoding":{"detail":{"field":"e"}}},{"transform":[{"filter":"!datum.e&&!datum.t&&datum.k==0"}],"mark":{"type":"area","color":"#8a5214"},"encoding":{"y2":{"field":"R"}}},{"transform":[{"filter":"!datum.e&&!datum.t&&datum.k==1.5"}],"mark":{"type":"area","color":"#d98a20"},"encoding":{"y2":{"field":"B"}}},{"transform":[{"filter":"!datum.e&&!datum.t&&datum.n<15"}],"mark":{"type":"area","stroke":"#5c4b35","strokeWidth":0.5,"color":{"gradient":"linear","x1":0,"x2":1,"y1":0,"y2":0,"stops":[{"offset":0,"color":"#f0951f"},{"offset":0.3,"color":"#ec8e1c"},{"offset":0.4,"color":"#c97c1c"},{"offset":0.48,"color":"#96591a"},{"offset":0.58,"color":"#7a4812"},{"offset":0.62,"color":"#b06c18"},{"offset":0.75,"color":"#c88020"},{"offset":1,"color":"#d98a20"}]}},"encoding":{"y2":{"field":"B"},"detail":{"field":"n"}}},{"transform":[{"filter":"!datum.e&&!datum.t&&(abs(datum.k*5-round(datum.k*5))<0.01||abs(datum.k)==1.5)&&(datum.k<=0||datum.X>248)"}],"mark":{"type":"line","color":"#5c4b35","strokeWidth":0.5},"encoding":{"detail":{"field":"k"}}},{"transform":[{"filter":"!datum.e&&!datum.t&&datum.n==15"}],"mark":{"type":"area","color":"#5a3610","stroke":"#4a3410","strokeWidth":0.6},"encoding":{"y2":{"field":"B"}}},{"transform":[{"filter":"test(/^f/,datum.e||'')"}],"mark":{"type":"line","color":"#333","strokeWidth":1},"encoding":{"detail":{"field":"e"}}},{"transform":[{"filter":"datum.g=='l'"}],"mark":{"type":"text","dx":-19,"dy":2,"fontSize":16,"color":"#222"},"encoding":{"text":{"field":"t"}}},{"transform":[{"filter":"datum.g=='b'"}],"mark":{"type":"text","dy":12,"fontSize":16,"color":"#222"},"encoding":{"text":{"field":"t"}}},{"transform":[{"filter":"datum.g=='r'"}],"mark":{"type":"text","dx":14,"dy":3,"fontSize":16,"color":"#222"},"encoding":{"text":{"field":"t"}}},{"transform":[{"filter":"datum.g=='x'"}],"mark":{"type":"text","dx":-22.9,"dy":31.4,"angle":42,"fontSize":18,"color":"#333"},"encoding":{"text":{"field":"t"}}},{"transform":[{"filter":"datum.g=='k'"}],"mark":{"type":"text","dx":-11.6,"dy":27.8,"angle":343,"fontSize":17,"color":"#333"},"encoding":{"text":{"field":"t"}}},{"transform":[{"filter":"datum.g=='a'"}],"mark":{"type":"text","dx":23.9,"dy":-32,"angle":85,"fontSize":17,"color":"#333"},"encoding":{"text":{"field":"t"}}}]},{"width":196,"height":190,"view":{"stroke":null},"data":{"values":[{"n":0,"k":-1.5,"a":0},{"n":0,"k":-1.4,"a":0},{"n":0,"k":-1.2,"a":0},{"n":0,"k":-1,"a":0},{"n":0,"k":-0.8,"a":0},{"n":0,"k":-0.6,"a":0},{"n":0,"k":-0.4,"a":0},{"n":0,"k":-0.2,"a":0},{"n":0,"k":0,"a":0},{"n":0,"k":0.2,"a":0},{"n":0,"k":0.4,"a":0},{"n":0,"k":0.6,"a":0},{"n":0,"k":0.8,"a":0},{"n":0,"k":1,"a":0},{"n":0,"k":1.2,"a":0},{"n":0,"k":1.4,"a":0},{"n":0,"k":1.5,"a":0},{"n":1,"k":-1.5,"a":0.016},{"n":1,"k":-1.4,"a":0.018},{"n":1,"k":-1.2,"a":0.024},{"n":1,"k":-1,"a":0.03},{"n":1,"k":-0.8,"a":0.036},{"n":1,"k":-0.6,"a":0.042},{"n":1,"k":-0.4,"a":0.046},{"n":1,"k":-0.2,"a":0.05},{"n":1,"k":0,"a":0.05},{"n":1,"k":0.2,"a":0.05},{"n":1,"k":0.4,"a":0.046},{"n":1,"k":0.6,"a":0.042},{"n":1,"k":0.8,"a":0.036},{"n":1,"k":1,"a":0.03},{"n":1,"k":1.2,"a":0.024},{"n":1,"k":1.4,"a":0.018},{"n":1,"k":1.5,"a":0.016},{"n":2,"k":-1.5,"a":0.011},{"n":2,"k":-1.4,"a":0.014},{"n":2,"k":-1.2,"a":0.024},{"n":2,"k":-1,"a":0.037},{"n":2,"k":-0.8,"a":0.053},{"n":2,"k":-0.6,"a":0.07},{"n":2,"k":-0.4,"a":0.085},{"n":2,"k":-0.2,"a":0.096},{"n":2,"k":0,"a":0.1},{"n":2,"k":0.2,"a":0.096},{"n":2,"k":0.4,"a":0.085},{"n":2,"k":0.6,"a":0.07},{"n":2,"k":0.8,"a":0.053},{"n":2,"k":1,"a":0.037},{"n":2,"k":1.2,"a":0.024},{"n":2,"k":1.4,"a":0.014},{"n":2,"k":1.5,"a":0.011},{"n":3,"k":-1.5,"a":0.012},{"n":3,"k":-1.4,"a":0.012},{"n":3,"k":-1.2,"a":0.015},{"n":3,"k":-1,"a":0.023},{"n":3,"k":-0.8,"a":0.045},{"n":3,"k":-0.6,"a":0.076},{"n":3,"k":-0.4,"a":0.11},{"n":3,"k":-0.2,"a":0.14},{"n":3,"k":0,"a":0.15},{"n":3,"k":0.2,"a":0.14},{"n":3,"k":0.4,"a":0.11},{"n":3,"k":0.6,"a":0.076},{"n":3,"k":0.8,"a":0.045},{"n":3,"k":1,"a":0.023},{"n":3,"k":1.2,"a":0.015},{"n":3,"k":1.4,"a":0.012},{"n":3,"k":1.5,"a":0.012},{"n":4,"k":-1.5,"a":0.015},{"n":4,"k":-1.4,"a":0.015},{"n":4,"k":-1.2,"a":0.015},{"n":4,"k":-1,"a":0.02},{"n":4,"k":-0.8,"a":0.04},{"n":4,"k":-0.6,"a":0.08},{"n":4,"k":-0.4,"a":0.13},{"n":4,"k":-0.2,"a":0.18},{"n":4,"k":0,"a":0.2},{"n":4,"k":0.2,"a":0.18},{"n":4,"k":0.4,"a":0.13},{"n":4,"k":0.6,"a":0.08},{"n":4,"k":0.8,"a":0.04},{"n":4,"k":1,"a":0.02},{"n":4,"k":1.2,"a":0.015},{"n":4,"k":1.4,"a":0.015},{"n":4,"k":1.5,"a":0.015},{"n":5,"k":-1.5,"a":0.015},{"n":5,"k":-1.4,"a":0.015},{"n":5,"k":-1.2,"a":0.015},{"n":5,"k":-1,"a":0.02},{"n":5,"k":-0.8,"a":0.03},{"n":5,"k":-0.6,"a":0.075},{"n":5,"k":-0.4,"a":0.145},{"n":5,"k":-0.2,"a":0.22},{"n":5,"k":0,"a":0.25},{"n":5,"k":0.2,"a":0.22},{"n":5,"k":0.4,"a":0.145},{"n":5,"k":0.6,"a":0.075},{"n":5,"k":0.8,"a":0.03},{"n":5,"k":1,"a":0.02},{"n":5,"k":1.2,"a":0.015},{"n":5,"k":1.4,"a":0.015},{"n":5,"k":1.5,"a":0.015},{"n":6,"k":-1.5,"a":0.015},{"n":6,"k":-1.4,"a":0.015},{"n":6,"k":-1.2,"a":0.015},{"n":6,"k":-1,"a":0.02},{"n":6,"k":-0.8,"a":0.03},{"n":6,"k":-0.6,"a":0.065},{"n":6,"k":-0.4,"a":0.15},{"n":6,"k":-0.2,"a":0.25},{"n":6,"k":0,"a":0.3},{"n":6,"k":0.2,"a":0.25},{"n":6,"k":0.4,"a":0.15},{"n":6,"k":0.6,"a":0.065},{"n":6,"k":0.8,"a":0.03},{"n":6,"k":1,"a":0.02},{"n":6,"k":1.2,"a":0.015},{"n":6,"k":1.4,"a":0.015},{"n":6,"k":1.5,"a":0.015},{"n":7,"k":-1.5,"a":0.015},{"n":7,"k":-1.4,"a":0.015},{"n":7,"k":-1.2,"a":0.015},{"n":7,"k":-1,"a":0.02},{"n":7,"k":-0.8,"a":0.03},{"n":7,"k":-0.6,"a":0.065},{"n":7,"k":-0.4,"a":0.155},{"n":7,"k":-0.2,"a":0.285},{"n":7,"k":0,"a":0.35},{"n":7,"k":0.2,"a":0.285},{"n":7,"k":0.4,"a":0.155},{"n":7,"k":0.6,"a":0.065},{"n":7,"k":0.8,"a":0.03},{"n":7,"k":1,"a":0.02},{"n":7,"k":1.2,"a":0.015},{"n":7,"k":1.4,"a":0.015},{"n":7,"k":1.5,"a":0.015},{"n":8,"k":-1.5,"a":0.015},{"n":8,"k":-1.4,"a":0.015},{"n":8,"k":-1.2,"a":0.015},{"n":8,"k":-1,"a":0.02},{"n":8,"k":-0.8,"a":0.025},{"n":8,"k":-0.6,"a":0.06},{"n":8,"k":-0.4,"a":0.15},{"n":8,"k":-0.2,"a":0.31},{"n":8,"k":0,"a":0.39},{"n":8,"k":0.2,"a":0.31},{"n":8,"k":0.4,"a":0.15},{"n":8,"k":0.6,"a":0.06},{"n":8,"k":0.8,"a":0.025},{"n":8,"k":1,"a":0.02},{"n":8,"k":1.2,"a":0.015},{"n":8,"k":1.4,"a":0.015},{"n":8,"k":1.5,"a":0.015},{"n":9,"k":-1.5,"a":0.015},{"n":9,"k":-1.4,"a":0.015},{"n":9,"k":-1.2,"a":0.015},{"n":9,"k":-1,"a":0.02},{"n":9,"k":-0.8,"a":0.03},{"n":9,"k":-0.6,"a":0.05},{"n":9,"k":-0.5,"a":0.08},{"n":9,"k":-0.4,"a":0.145},{"n":9,"k":-0.3,"a":0.23},{"n":9,"k":-0.2,"a":0.33},{"n":9,"k":-0.1,"a":0.4},{"n":9,"k":0,"a":0.43},{"n":9,"k":0.1,"a":0.4},{"n":9,"k":0.2,"a":0.33},{"n":9,"k":0.3,"a":0.23},{"n":9,"k":0.4,"a":0.145},{"n":9,"k":0.5,"a":0.08},{"n":9,"k":0.6,"a":0.05},{"n":9,"k":0.8,"a":0.03},{"n":9,"k":1,"a":0.02},{"n":9,"k":1.2,"a":0.015},{"n":9,"k":1.4,"a":0.015},{"n":9,"k":1.5,"a":0.015},{"n":10,"k":-1.5,"a":0.015},{"n":10,"k":-1.4,"a":0.015},{"n":10,"k":-1.2,"a":0.015},{"n":10,"k":-1,"a":0.02},{"n":10,"k":-0.8,"a":0.025},{"n":10,"k":-0.6,"a":0.04},{"n":10,"k":-0.5,"a":0.075},{"n":10,"k":-0.4,"a":0.14},{"n":10,"k":-0.3,"a":0.235},{"n":10,"k":-0.2,"a":0.345},{"n":10,"k":-0.1,"a":0.435},{"n":10,"k":0,"a":0.47},{"n":10,"k":0.1,"a":0.435},{"n":10,"k":0.2,"a":0.345},{"n":10,"k":0.3,"a":0.235},{"n":10,"k":0.4,"a":0.14},{"n":10,"k":0.5,"a":0.075},{"n":10,"k":0.6,"a":0.04},{"n":10,"k":0.8,"a":0.025},{"n":10,"k":1,"a":0.02},{"n":10,"k":1.2,"a":0.015},{"n":10,"k":1.4,"a":0.015},{"n":10,"k":1.5,"a":0.015},{"n":11,"k":-1.5,"a":0.015},{"n":11,"k":-1.4,"a":0.015},{"n":11,"k":-1.2,"a":0.015},{"n":11,"k":-1,"a":0.02},{"n":11,"k":-0.8,"a":0.025},{"n":11,"k":-0.6,"a":0.035},{"n":11,"k":-0.5,"a":0.07},{"n":11,"k":-0.4,"a":0.13},{"n":11,"k":-0.3,"a":0.23},{"n":11,"k":-0.2,"a":0.355},{"n":11,"k":-0.1,"a":0.46},{"n":11,"k":0,"a":0.5},{"n":11,"k":0.1,"a":0.46},{"n":11,"k":0.2,"a":0.355},{"n":11,"k":0.3,"a":0.23},{"n":11,"k":0.4,"a":0.13},{"n":11,"k":0.5,"a":0.07},{"n":11,"k":0.6,"a":0.035},{"n":11,"k":0.8,"a":0.025},{"n":11,"k":1,"a":0.02},{"n":11,"k":1.2,"a":0.015},{"n":11,"k":1.4,"a":0.015},{"n":11,"k":1.5,"a":0.015},{"n":12,"k":-1.5,"a":0.015},{"n":12,"k":-1.4,"a":0.015},{"n":12,"k":-1.2,"a":0.015},{"n":12,"k":-1,"a":0.02},{"n":12,"k":-0.8,"a":0.02},{"n":12,"k":-0.6,"a":0.03},{"n":12,"k":-0.5,"a":0.06},{"n":12,"k":-0.4,"a":0.12},{"n":12,"k":-0.3,"a":0.22},{"n":12,"k":-0.2,"a":0.36},{"n":12,"k":-0.1,"a":0.48},{"n":12,"k":0,"a":0.53},{"n":12,"k":0.1,"a":0.48},{"n":12,"k":0.2,"a":0.36},{"n":12,"k":0.3,"a":0.22},{"n":12,"k":0.4,"a":0.12},{"n":12,"k":0.5,"a":0.06},{"n":12,"k":0.6,"a":0.03},{"n":12,"k":0.8,"a":0.02},{"n":12,"k":1,"a":0.02},{"n":12,"k":1.2,"a":0.015},{"n":12,"k":1.4,"a":0.015},{"n":12,"k":1.5,"a":0.015},{"n":13,"k":-1.5,"a":0.015},{"n":13,"k":-1.4,"a":0.015},{"n":13,"k":-1.2,"a":0.015},{"n":13,"k":-1,"a":0.02},{"n":13,"k":-0.8,"a":0.02},{"n":13,"k":-0.6,"a":0.03},{"n":13,"k":-0.5,"a":0.055},{"n":13,"k":-0.4,"a":0.11},{"n":13,"k":-0.3,"a":0.22},{"n":13,"k":-0.2,"a":0.37},{"n":13,"k":-0.1,"a":0.505},{"n":13,"k":0,"a":0.56},{"n":13,"k":0.1,"a":0.505},{"n":13,"k":0.2,"a":0.37},{"n":13,"k":0.3,"a":0.22},{"n":13,"k":0.4,"a":0.11},{"n":13,"k":0.5,"a":0.055},{"n":13,"k":0.6,"a":0.03},{"n":13,"k":0.8,"a":0.02},{"n":13,"k":1,"a":0.02},{"n":13,"k":1.2,"a":0.015},{"n":13,"k":1.4,"a":0.015},{"n":13,"k":1.5,"a":0.015},{"n":14,"k":-1.5,"a":0.015},{"n":14,"k":-1.4,"a":0.015},{"n":14,"k":-1.2,"a":0.015},{"n":14,"k":-1,"a":0.02},{"n":14,"k":-0.8,"a":0.02},{"n":14,"k":-0.6,"a":0.025},{"n":14,"k":-0.5,"a":0.045},{"n":14,"k":-0.4,"a":0.09},{"n":14,"k":-0.3,"a":0.2},{"n":14,"k":-0.2,"a":0.36},{"n":14,"k":-0.1,"a":0.515},{"n":14,"k":0,"a":0.58},{"n":14,"k":0.1,"a":0.515},{"n":14,"k":0.2,"a":0.36},{"n":14,"k":0.3,"a":0.2},{"n":14,"k":0.4,"a":0.09},{"n":14,"k":0.5,"a":0.045},{"n":14,"k":0.6,"a":0.025},{"n":14,"k":0.8,"a":0.02},{"n":14,"k":1,"a":0.02},{"n":14,"k":1.2,"a":0.015},{"n":14,"k":1.4,"a":0.015},{"n":14,"k":1.5,"a":0.015},{"n":15,"k":-1.5,"a":0.015},{"n":15,"k":-1.4,"a":0.015},{"n":15,"k":-1.2,"a":0.015},{"n":15,"k":-1,"a":0.02},{"n":15,"k":-0.8,"a":0.02},{"n":15,"k":-0.6,"a":0.02},{"n":15,"k":-0.5,"a":0.035},{"n":15,"k":-0.4,"a":0.08},{"n":15,"k":-0.3,"a":0.19},{"n":15,"k":-0.2,"a":0.36},{"n":15,"k":-0.1,"a":0.53},{"n":15,"k":0,"a":0.6},{"n":15,"k":0.1,"a":0.53},{"n":15,"k":0.2,"a":0.36},{"n":15,"k":0.3,"a":0.19},{"n":15,"k":0.4,"a":0.08},{"n":15,"k":0.5,"a":0.035},{"n":15,"k":0.6,"a":0.02},{"n":15,"k":0.8,"a":0.02},{"n":15,"k":1,"a":0.02},{"n":15,"k":1.2,"a":0.015},{"n":15,"k":1.4,"a":0.015},{"n":15,"k":1.5,"a":0.015},{"e":"b1","n":0,"k":-1.5,"a":0},{"e":"b1","n":0,"k":1.5,"a":0},{"e":"b2","n":0,"k":1.5,"a":0},{"e":"b2","n":15,"k":1.5,"a":0},{"e":"b3","n":0,"k":-1.5,"a":0},{"e":"b3","n":0,"k":-1.5,"a":1},{"e":"b4","n":0,"k":1.5,"a":0},{"e":"b4","n":0,"k":1.5,"a":1},{"e":"b5","n":0,"k":-1.5,"a":1},{"e":"b5","n":0,"k":1.5,"a":1},{"e":"b6","n":0,"k":-1.5,"a":0},{"e":"b6","n":15,"k":-1.5,"a":0},{"e":"f1","n":15,"k":-1.5,"a":0},{"e":"f1","n":15,"k":-1.5,"a":1},{"e":"f2","n":15,"k":1.5,"a":0},{"e":"f2","n":15,"k":1.5,"a":1},{"e":"f3","n":15,"k":-1.5,"a":0},{"e":"f3","n":15,"k":1.5,"a":0},{"e":"f4","n":15,"k":-1.5,"a":1},{"e":"f4","n":15,"k":1.5,"a":1},{"e":"f5","n":0,"k":-1.5,"a":1},{"e":"f5","n":15,"k":-1.5,"a":1},{"e":"f6","n":0,"k":1.5,"a":1},{"e":"f6","n":15,"k":1.5,"a":1},{"g":"l","t":"0.0","n":0,"k":-1.5,"a":0},{"g":"l","t":"0.5","n":7.5,"k":-1.5,"a":0},{"g":"l","t":"1.0","n":15,"k":-1.5,"a":0},{"g":"b","t":"−1","n":15,"k":-1,"a":0},{"g":"b","t":"0","n":15,"k":0,"a":0},{"g":"b","t":"1","n":15,"k":1,"a":0},{"g":"r","t":"0.0","n":15,"k":1.5,"a":0},{"g":"r","t":"0.5","n":15,"k":1.5,"a":0.5},{"g":"r","t":"1.0","n":15,"k":1.5,"a":1},{"g":"x","t":"x / L","n":9,"k":-1.5,"a":0},{"g":"k","t":"Δk - Δk₀ (mm⁻¹)","n":15,"k":0.2,"a":0},{"g":"a","t":"|A| (u.a.)","n":15,"k":1.5,"a":0.6}]},"transform":[{"calculate":"(datum.k+1.5)/3","as":"t0"},{"calculate":"1.38*datum.t0/(1+0.38*datum.t0)","as":"u"},{"calculate":"datum.n/15","as":"l"},{"calculate":"0.82*datum.l/(1-0.18*datum.l)","as":"v"},{"calculate":"(1-datum.v)*((1-datum.u)*42+datum.u*182)+datum.v*((1-datum.u)*122+datum.u*305)","as":"fx"},{"calculate":"(1-datum.v)*((1-datum.u)*95+datum.u*65)+datum.v*((1-datum.u)*167+datum.u*113)","as":"fy"},{"calculate":"(1-datum.v)*((1-datum.u)*35+datum.u*182)+datum.v*((1-datum.u)*119+datum.u*310)","as":"tx"},{"calculate":"(1-datum.v)*((1-datum.u)*25+datum.u*18)+datum.v*((1-datum.u)*52+datum.u*31)","as":"ty"},{"calculate":"datum.fx+(datum.tx-datum.fx)*datum.a","as":"X"},{"calculate":"datum.fy+(datum.ty-datum.fy)*datum.a","as":"Y"},{"calculate":"datum.Y+(datum.fy+(datum.n<15?(5.3+2.6*datum.l)*1.15:0)-datum.Y)*min(1,datum.t0*30)","as":"B"},{"calculate":"datum.Y+15","as":"R"}],"encoding":{"x":{"field":"X","type":"quantitative","scale":{"domain":[77,273],"nice":false,"zero":false},"axis":null},"y":{"field":"Y","type":"quantitative","scale":{"domain":[190,0],"nice":false,"zero":false},"axis":null}},"layer":[{"transform":[{"filter":"test(/^b/,datum.e||'')"}],"mark":{"type":"line","color":"#333","strokeWidth":1},"encoding":{"detail":{"field":"e"}}},{"transform":[{"filter":"!datum.e&&!datum.t&&datum.k==0"}],"mark":{"type":"area","color":"#a8661c"},"encoding":{"y2":{"field":"R"}}},{"transform":[{"filter":"!datum.e&&!datum.t&&datum.k==1.5"}],"mark":{"type":"area","color":"#9c6018"},"encoding":{"y2":{"field":"B"}}},{"transform":[{"filter":"!datum.e&&!datum.t&&datum.n<15"}],"mark":{"type":"area","stroke":"#5c4b35","strokeWidth":0.5,"color":{"gradient":"linear","x1":0,"x2":1,"y1":0,"y2":0,"stops":[{"offset":0,"color":"#e39020"},{"offset":0.35,"color":"#d88418"},{"offset":0.5,"color":"#b87416"},{"offset":0.56,"color":"#9a5f14"},{"offset":0.6,"color":"#c07a1a"},{"offset":0.75,"color":"#a86a1a"},{"offset":1,"color":"#9c6018"}]}},"encoding":{"y2":{"field":"B"},"detail":{"field":"n"}}},{"transform":[{"filter":"!datum.e&&!datum.t&&(abs(datum.k*5-round(datum.k*5))<0.01||abs(datum.k)==1.5)&&(datum.k<=0||datum.X>225)"}],"mark":{"type":"line","color":"#5c4b35","strokeWidth":0.5},"encoding":{"detail":{"field":"k"}}},{"transform":[{"filter":"!datum.e&&!datum.t&&datum.n==15"}],"mark":{"type":"area","stroke":"#4a3410","strokeWidth":0.6,"color":{"gradient":"linear","x1":0,"x2":1,"y1":0,"y2":0,"stops":[{"offset":0,"color":"#a86a18"},{"offset":0.46,"color":"#a86a18"},{"offset":0.53,"color":"#5a3610"},{"offset":1,"color":"#5a3610"}]}},"encoding":{"y2":{"field":"B"}}},{"transform":[{"filter":"test(/^f/,datum.e||'')"}],"mark":{"type":"line","color":"#333","strokeWidth":1},"encoding":{"detail":{"field":"e"}}},{"transform":[{"filter":"datum.g=='l'"}],"mark":{"type":"text","dx":-19,"dy":2,"fontSize":16,"color":"#222"},"encoding":{"text":{"field":"t"}}},{"transform":[{"filter":"datum.g=='b'"}],"mark":{"type":"text","dy":12,"fontSize":16,"color":"#222"},"encoding":{"text":{"field":"t"}}},{"transform":[{"filter":"datum.g=='r'"}],"mark":{"type":"text","dx":14,"dy":3,"fontSize":16,"color":"#222"},"encoding":{"text":{"field":"t"}}},{"transform":[{"filter":"datum.g=='x'"}],"mark":{"type":"text","dx":-22.9,"dy":31.4,"angle":42,"fontSize":18,"color":"#333"},"encoding":{"text":{"field":"t"}}},{"transform":[{"filter":"datum.g=='k'"}],"mark":{"type":"text","dx":-11.6,"dy":27.8,"angle":343,"fontSize":17,"color":"#333"},"encoding":{"text":{"field":"t"}}},{"transform":[{"filter":"datum.g=='a'"}],"mark":{"type":"text","dx":23.9,"dy":-32,"angle":85,"fontSize":17,"color":"#333"},"encoding":{"text":{"field":"t"}}}]}]}
